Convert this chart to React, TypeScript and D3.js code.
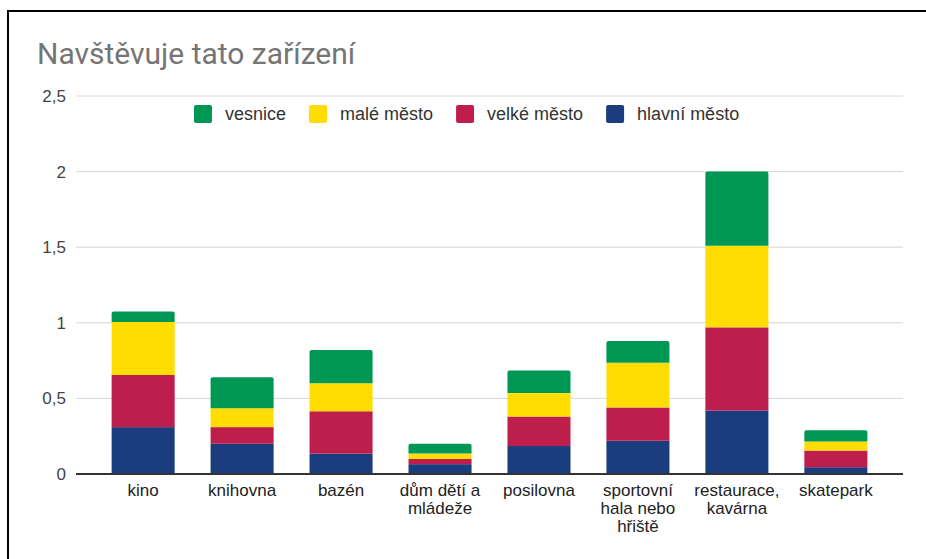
import React from "react";
import * as d3 from "d3";

const categories = [
  ["kino"],
  ["knihovna"],
  ["bazén"],
  ["dům dětí a", "mládeže"],
  ["posilovna"],
  ["sportovní", "hala nebo", "hřiště"],
  ["restaurace,", "kavárna"],
  ["skatepark"],
];
const hlavniMesto = [0.31, 0.2, 0.135, 0.065, 0.185, 0.22, 0.42, 0.045];
const velkeMesto = [0.345, 0.11, 0.28, 0.035, 0.195, 0.22, 0.55, 0.11];
const maleMesto = [0.35, 0.125, 0.185, 0.035, 0.155, 0.295, 0.54, 0.06];
const vesnice = [0.07, 0.205, 0.22, 0.065, 0.15, 0.145, 0.49, 0.075];
const yTicks = [0, 0.5, 1, 1.5, 2, 2.5];
const yTickLabels = ["0", "0,5", "1", "1,5", "2", "2,5"];

const series = [
  { name: "hlavní město", values: hlavniMesto, color: "#1b3d7e" },
  { name: "velké město", values: velkeMesto, color: "#be1e4b" },
  { name: "malé město", values: maleMesto, color: "#ffdd00" },
  { name: "vesnice", values: vesnice, color: "#009754" },
];
const legendOrder = ["vesnice", "malé město", "velké město", "hlavní město"];

const W = 926;
const H = 559;
const left = 76;
const right = 903;
const top = 96;
const bottom = 474;
const FONT = "'Liberation Sans', Arial, sans-serif";

function measure(text: string, size: number) {
  if (typeof document === "undefined") return text.length * size * 0.5;
  const c = document.createElement("canvas").getContext("2d");
  if (!c) return text.length * size * 0.5;
  c.font = `${size}px 'Liberation Sans', Arial, sans-serif`;
  return c.measureText(text).width;
}

function topRoundedRect(x: number, y: number, w: number, h: number, r: number) {
  const rr = Math.min(r, h / 2, w / 2);
  return `M${x},${y + h}V${y + rr}Q${x},${y} ${x + rr},${y}H${x + w - rr}Q${x + w},${y} ${x + w},${y + rr}V${y + h}Z`;
}

export default function App() {
  const x = d3
    .scaleBand<number>()
    .domain(d3.range(categories.length))
    .range([left, right])
    .paddingInner(0.363)
    .paddingOuter(0.36);
  const y = d3.scaleLinear().domain([0, 2.5]).range([bottom, top]);

  const stackData = categories.map((_, i) => {
    const o: Record<string, number> = {};
    series.forEach((s) => (o[s.name] = s.values[i]));
    return o;
  });
  const stacked = d3.stack<Record<string, number>>().keys(series.map((s) => s.name))(stackData);

  const legendSize = 18;
  let lx = 194;
  const legendItems = legendOrder.map((name) => {
    const s = series.find((q) => q.name === name)!;
    const item = { name, color: s.color, x: lx };
    lx += 18 + 13 + measure(name, legendSize) + 23;
    return item;
  });

  return (
    <svg
      width={W}
      height={H}
      style={{ position: "absolute", left: 0, top: 0, background: "#fff" }}
    >
      <rect x={0} y={0} width={W} height={H} fill="#fff" />
      <line x1={8} y1={11} x2={W} y2={11} stroke="#000" strokeWidth={2} />
      <line x1={8} y1={10} x2={8} y2={H} stroke="#000" strokeWidth={2} />
      <text
        x={37}
        y={64}
        fontFamily="Roboto, sans-serif"
        fontSize={30}
        fill="#757575"
      >
        Navštěvuje tato zařízení
      </text>
      {yTicks.map((t, i) => (
        <g key={t}>
          {t !== 0 && (
            <line x1={left} x2={right} y1={y(t)} y2={y(t)} stroke="#d6d6d6" strokeWidth={1} />
          )}
          <text
            x={66}
            y={y(t)}
            dy="0.35em"
            textAnchor="end"
            fontFamily={FONT}
            fontSize={17}
            fill="#444"
          >
            {yTickLabels[i]}
          </text>
        </g>
      ))}
      {stacked.map((layer, li) => {
        const s = series[li];
        const isTop = li === stacked.length - 1;
        return (
          <g key={s.name}>
            {layer.map((d, i) => {
              const bx = x(i)!;
              const bw = x.bandwidth();
              const y0 = y(d[0]);
              const y1 = y(d[1]);
              return isTop ? (
                <path key={i} d={topRoundedRect(bx, y1, bw, y0 - y1, 2)} fill={s.color} />
              ) : (
                <rect key={i} x={bx} y={y1} width={bw} height={y0 - y1} fill={s.color} />
              );
            })}
          </g>
        );
      })}
      <line x1={left} x2={right} y1={bottom} y2={bottom} stroke="#333" strokeWidth={2} />
      {categories.map((lines, i) => (
        <text
          key={i}
          x={x(i)! + x.bandwidth() / 2}
          y={496}
          textAnchor="middle"
          fontFamily={FONT}
          fontSize={17}
          fill="#222"
        >
          {lines.map((l, j) => (
            <tspan key={j} x={x(i)! + x.bandwidth() / 2} dy={j === 0 ? 0 : 18}>
              {l}
            </tspan>
          ))}
        </text>
      ))}
      {legendItems.map((it) => (
        <g key={it.name}>
          <rect x={it.x} y={105} width={18} height={18} rx={2} fill={it.color} />
          <text x={it.x + 31} y={120} fontFamily={FONT} fontSize={legendSize} fill="#333">
            {it.name}
          </text>
        </g>
      ))}
    </svg>
  );
}
